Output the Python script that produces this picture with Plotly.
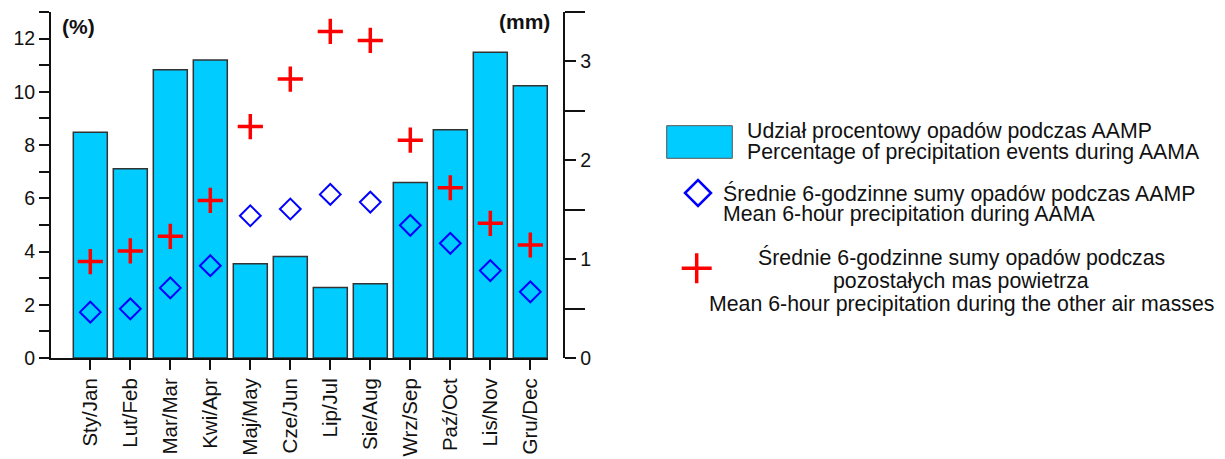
import plotly.graph_objects as go

months = ["Sty/Jan", "Lut/Feb", "Mar/Mar", "Kwi/Apr", "Maj/May", "Cze/Jun",
          "Lip/Jul", "Sie/Aug", "Wrz/Sep", "Paź/Oct", "Lis/Nov", "Gru/Dec"]
pct_aamp = [8.48, 7.11, 10.83, 11.20, 3.54, 3.81, 2.65, 2.79, 6.59, 8.58, 11.49, 10.23]
mean_aamp = [0.464, 0.497, 0.709, 0.934, 1.439, 1.507, 1.655, 1.577, 1.342, 1.160, 0.884, 0.669]
mean_other = [0.975, 1.083, 1.231, 1.594, 2.341, 2.822, 3.303, 3.212, 2.203, 1.722, 1.362, 1.143]

left_ticks = list(range(0, 14))
left_ticktext = [str(v) if v % 2 == 0 else "" for v in left_ticks]
right_ticks = [0, 1, 2, 3]
right_minor = [0.5, 1.5, 2.5, 3.5]

FONT = "Liberation Sans, Arial, sans-serif"
INK = "#111111"

# page geometry: the plot div sits 8 px in from the page corner (body margin)
OFF = 8
W, H = 1225 - OFF, 459 - OFF
P_LEFT, P_TOP, P_BOTTOM = 51, 12, 358      # plot area in page pixels
MR = 2
ML = P_LEFT - OFF
MT = P_TOP - OFF
MB = H - (P_BOTTOM - OFF)
PW = W - ML - MR
PH = H - MT - MB


def px_x(px):
    return (px - P_LEFT) / PW


def px_y(py):
    return (P_BOTTOM - py) / PH


fig = go.Figure()
fig.add_trace(go.Bar(
    x=list(range(len(months))), y=pct_aamp, width=0.85,
    marker=dict(color="#00CCFF", line=dict(color="#333333", width=1.5)),
    showlegend=False, yaxis="y",
))
fig.add_trace(go.Scatter(
    x=list(range(len(months))), y=mean_aamp, mode="markers", yaxis="y2",
    marker=dict(symbol="diamond-open", size=16, color="#0000FF",
                line=dict(color="#0000FF", width=2)),
    showlegend=False,
))
fig.add_trace(go.Scatter(
    x=list(range(len(months))), y=mean_other, mode="markers", yaxis="y2",
    marker=dict(symbol="cross-thin-open", size=18, color="#FF0000",
                line=dict(color="#FF0000", width=3.5)),
    showlegend=False,
))

x_end_px = 548
x0_cat = -0.9825
x_range_end = x0_cat + (x_end_px - P_LEFT) / 40.0

fig.update_layout(
    width=W, height=H,
    margin=dict(l=ML, r=MR, t=MT, b=MB, autoexpand=False),
    paper_bgcolor="white", plot_bgcolor="white",
    font=dict(family=FONT, color=INK, size=19),
    xaxis=dict(
        domain=[0, px_x(x_end_px)], range=[x0_cat, x_range_end], automargin=False,
        tickmode="array", tickvals=list(range(len(months))), ticktext=months,
        tickangle=-90, ticks="outside", ticklen=10, tickwidth=2, tickcolor=INK,
        showline=True, linewidth=2, linecolor=INK, showgrid=False, zeroline=False,
        tickfont=dict(size=20.5, family=FONT, color=INK),
    ),
    yaxis=dict(
        range=[0, 13], tickmode="array", tickvals=left_ticks, ticktext=left_ticktext,
        automargin=False,
        ticks="outside", ticklen=10, tickwidth=2, tickcolor=INK,
        showline=True, linewidth=2, linecolor=INK, showgrid=False, zeroline=False,
        tickfont=dict(size=19.5, family=FONT, color=INK),
    ),
    yaxis2=dict(
        range=[0, 3.5], overlaying="y", side="right", anchor="free",
        position=px_x(564.3), automargin=False,
        tickmode="array", tickvals=right_ticks, ticktext=[str(v) for v in right_ticks],
        ticks="outside", ticklen=11, tickwidth=2, tickcolor=INK,
        minor=dict(tickmode="array", tickvals=right_minor, ticks="outside",
                   ticklen=20, tickwidth=2, tickcolor=INK, showgrid=False),
        showline=True, linewidth=2, linecolor=INK, showgrid=False, zeroline=False,
        tickfont=dict(size=19.5, family=FONT, color=INK),
    ),
)

ann = []
ann.append(dict(text="<b>(%)</b>", x=px_x(60), y=px_y(26), xref="paper", yref="paper",
                xanchor="left", yanchor="middle", showarrow=False,
                font=dict(size=21, family=FONT, color=INK)))
ann.append(dict(text="<b>(mm)</b>", x=px_x(552), y=px_y(21), xref="paper", yref="paper",
                xanchor="right", yanchor="middle", showarrow=False,
                font=dict(size=21, family=FONT, color=INK)))

LF = 21.3


def line(text, x, baseline, anchor="left"):
    ann.append(dict(text=text, x=px_x(x), y=px_y(baseline - 0.35 * LF),
                    xref="paper", yref="paper", xanchor=anchor, yanchor="middle",
                    showarrow=False, font=dict(size=LF, family=FONT, color=INK)))


line("Udział procentowy opadów podczas AAMP", 745, 138)
line("Percentage of precipitation events during AAMA", 745, 159.5)
line("Średnie 6-godzinne sumy opadów podczas AAMP", 721, 200.7)
line("Mean 6-hour precipitation during AAMA", 721, 221.5)
line("Średnie 6-godzinne sumy opadów podczas", 961, 265, "center")
line("pozostałych mas powietrza", 961, 288.5, "center")
line("Mean 6-hour precipitation during the other air masses", 961, 311.7, "center")

shapes = []
shapes.append(dict(type="rect", xref="paper", yref="paper",
                   x0=px_x(666.7), x1=px_x(732.3), y0=px_y(158.3), y1=px_y(125.7),
                   fillcolor="#00CCFF", line=dict(color="#555555", width=1)))
shapes.append(dict(type="path", xref="paper", yref="paper",
                   xsizemode="pixel", ysizemode="pixel",
                   xanchor=px_x(698), yanchor=px_y(193),
                   path="M -13,0 L 0,13 L 13,0 L 0,-13 Z",
                   line=dict(color="#0000FF", width=2.5)))
shapes.append(dict(type="path", xref="paper", yref="paper",
                   xsizemode="pixel", ysizemode="pixel",
                   xanchor=px_x(696.7), yanchor=px_y(268.3),
                   path="M -15,0 L 15,0 M 0,-15 L 0,15",
                   line=dict(color="#FF0000", width=3.5)))

fig.update_layout(annotations=ann, shapes=shapes)
fig.write_html("out.html")
